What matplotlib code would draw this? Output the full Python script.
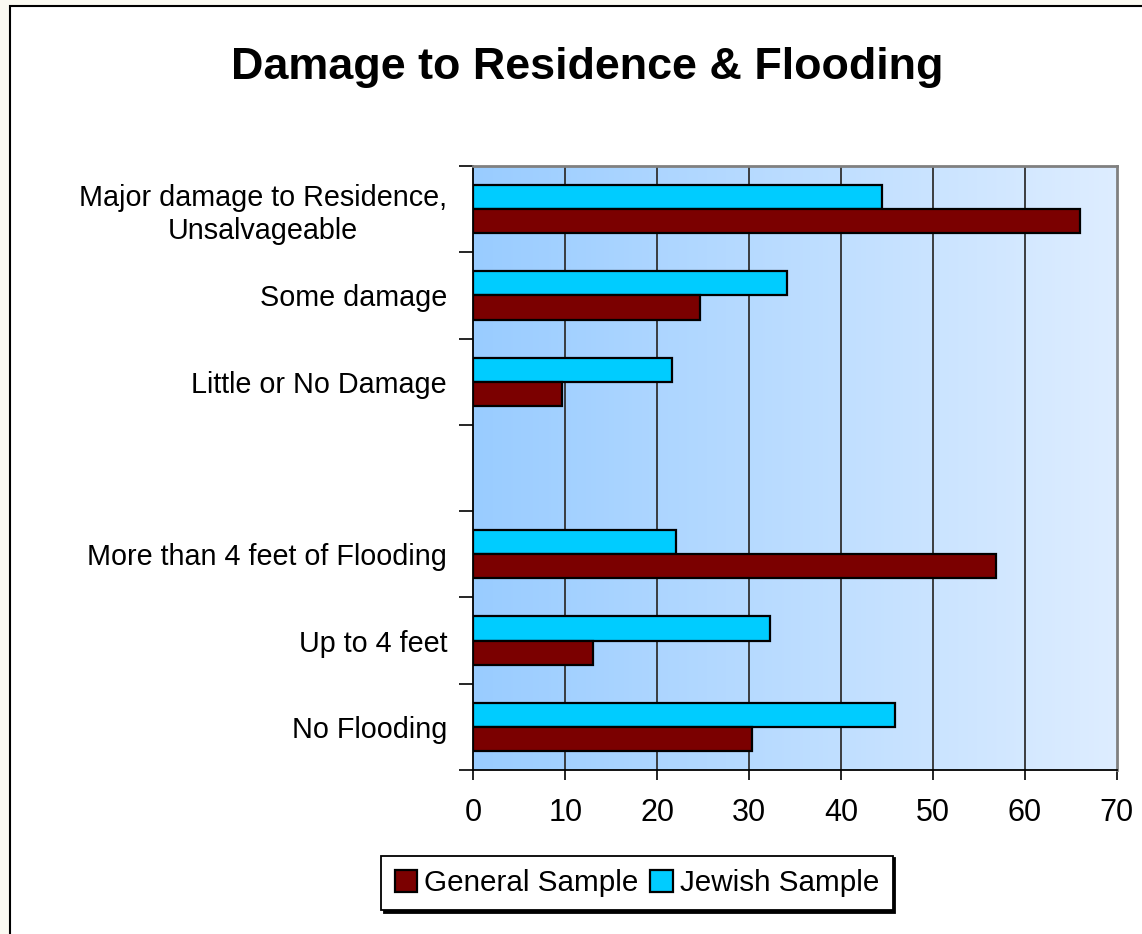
import numpy as np
import matplotlib.pyplot as plt
from matplotlib.patches import Rectangle

plt.rcParams["font.family"] = ["Liberation Sans", "DejaVu Sans"]

# Survey results (percent), top to bottom; the blank row separates the two groups
categories = ["Major damage to Residence,\nUnsalvageable", "Some damage",
              "Little or No Damage", "", "More than 4 feet of Flooding",
              "Up to 4 feet", "No Flooding"]
general = [66.0, 24.7, 9.6, np.nan, 56.9, 13.0, 30.3]
jewish = [44.5, 34.1, 21.6, np.nan, 22.0, 32.3, 45.9]
x_ticks = [0, 10, 20, 30, 40, 50, 60, 70]

fig = plt.figure(figsize=(11.42, 9.34), dpi=100, facecolor="#fbfaf2")

# white chart box with a black border
W, H = 1142, 934
fig.patches.append(Rectangle((10 / W, -0.1), 1.2, 1.1 - 6 / H, transform=fig.transFigure,
                             facecolor="white", edgecolor="black", lw=1.5, zorder=-1))

ax = fig.add_axes([473.4 / W, 1 - 770 / H, (1116.7 - 473.4) / W, (770 - 166) / H])

# horizontal blue gradient behind the bars
grad = np.linspace(0, 1, 256).reshape(1, -1)
left = np.array([0.60, 0.80, 1.0])
right = np.array([0.87, 0.93, 1.0])
img = left[None, None, :] * (1 - grad[..., None]) + right[None, None, :] * grad[..., None]
ax.imshow(img, extent=[0, 1, 0, 1], transform=ax.transAxes, aspect="auto", zorder=0)

y = np.arange(len(categories))
h = 0.28
ax.barh(y - h / 2, jewish, height=h, color="#00ccff", edgecolor="black", lw=1.6,
        zorder=3, label="Jewish Sample")
ax.barh(y + h / 2, general, height=h, color="#7b0000", edgecolor="black", lw=1.6,
        zorder=3, label="General Sample")

ax.set_xlim(0, 70)
ax.set_ylim(len(categories) - 0.5, -0.5)
ax.set_xticks(x_ticks)
ax.set_xticklabels([str(v) for v in x_ticks])
ax.set_yticks(y)
ax.set_yticklabels(categories, multialignment="center")
ax.set_yticks(np.arange(len(categories) + 1) - 0.5, minor=True)

ax.tick_params(axis="y", which="major", length=0, pad=19, labelsize=20.7)
ax.tick_params(axis="y", which="minor", length=10, width=1.2, direction="out")
ax.tick_params(axis="x", length=7, width=1.2, direction="out", pad=13, labelsize=22)

for v in x_ticks[1:-1]:
    ax.axvline(v, color="#303030", lw=1.3, zorder=1)

ax.spines["left"].set_linewidth(1.3)
ax.spines["bottom"].set_linewidth(1.3)
for s in ("top", "right"):
    ax.spines[s].set_color("#808080")
    ax.spines[s].set_linewidth(2)

fig.text(587 / W, 1 - 67 / H, "Damage to Residence & Flooding", ha="center", va="center",
         fontsize=32.3, fontweight="bold")

handles, labels = ax.get_legend_handles_labels()
leg = fig.legend(handles[::-1], labels[::-1], loc="center", ncol=2,
                 bbox_to_anchor=(637 / W, 1 - 883 / H), fontsize=21.3, fancybox=False,
                 edgecolor="black", framealpha=1, handlelength=0.75, handleheight=0.75,
                 handletextpad=0.25, columnspacing=0.4, borderpad=0.45,
                 borderaxespad=0, shadow={"color": "black", "alpha": 1})
leg.get_frame().set_linewidth(1.3)

fig.savefig("out.png", dpi=100, facecolor=fig.get_facecolor())
